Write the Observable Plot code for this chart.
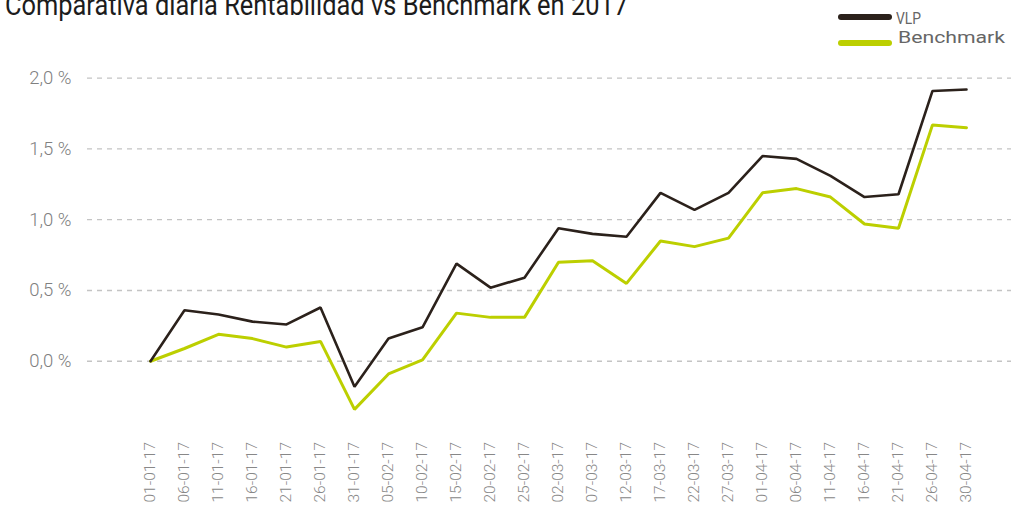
<!DOCTYPE html>
<html>
<head>
<meta charset="utf-8">
<script src="https://cdn.jsdelivr.net/npm/d3@7"></script>
<script src="https://cdn.jsdelivr.net/npm/@observablehq/plot@0.6"></script>
<style>
  html, body { margin: 0; padding: 0; background: #fff; overflow: hidden; }
  #wrap { position: relative; width: 1011px; height: 509px; }
  #title { position: absolute; left: 5px; top: -9px; font-family: Roboto, "Open Sans", sans-serif; font-size: 29px; line-height: 29px; color: #1c1c1c; white-space: nowrap; transform-origin: 0 0; }
  .leg { position: absolute; font-family: Roboto, sans-serif; font-size: 16px; line-height: 16px; color: #666; white-space: nowrap; transform-origin: 0 0; display: inline-block; }
  .sw { position: absolute; height: 6.5px; border-radius: 3px; }
</style>
</head>
<body>
<div id="wrap">
  <div id="chart"></div>
  <div id="title">Comparativa diaria Rentabilidad vs Benchmark en 2017</div>
  <div class="sw" style="left:838px;top:13.5px;width:54px;background:#2b211b"></div>
  <div class="leg" id="leg1" style="left:896px;top:10.7px">VLP</div>
  <div class="sw" style="left:838px;top:39.5px;width:54px;background:#bccf00"></div>
  <div class="leg" id="leg2" style="left:898px;top:29.7px">Benchmark</div>
</div>
<script>
const dates = ["01-01-17","06-01-17","11-01-17","16-01-17","21-01-17","26-01-17","31-01-17","05-02-17","10-02-17","15-02-17","20-02-17","25-02-17","02-03-17","07-03-17","12-03-17","17-03-17","22-03-17","27-03-17","01-04-17","06-04-17","11-04-17","16-04-17","21-04-17","26-04-17","30-04-17"];
const vlp = [0.00,0.36,0.33,0.28,0.26,0.38,-0.18,0.16,0.24,0.69,0.52,0.59,0.94,0.90,0.88,1.19,1.07,1.19,1.45,1.43,1.31,1.16,1.18,1.91,1.92];
const benchmark = [0.00,0.09,0.19,0.16,0.10,0.14,-0.34,-0.09,0.01,0.34,0.31,0.31,0.70,0.71,0.55,0.85,0.81,0.87,1.19,1.22,1.16,0.97,0.94,1.67,1.65];
const yTicks = [0, 0.5, 1.0, 1.5, 2.0];
const seriesNames = ["VLP", "Benchmark"];
const seriesColors = ["#2b211b", "#bccf00"];

const vlpData = dates.map((d, i) => ({date: d, value: vlp[i], series: seriesNames[0]}));
const benchData = dates.map((d, i) => ({date: d, value: benchmark[i], series: seriesNames[1]}));

const fmt = d => d.toFixed(1).replace(".", ",") + " %";

const chart = Plot.plot({
  width: 1011,
  height: 509,
  marginLeft: 87,
  marginRight: 0,
  marginTop: 77.7,
  marginBottom: 77.5,
  style: {fontFamily: "Roboto, sans-serif", background: "#fff"},
  x: {type: "point", domain: dates, range: [148, 968], padding: 0, label: null},
  y: {domain: [-0.5, 2.0], label: null},
  marks: [
    Plot.ruleY(yTicks, {stroke: "#c4c4c4", strokeWidth: 1.3, strokeDasharray: "5,5"}),
    Plot.axisY(yTicks, {tickSize: 0, tickPadding: 16, tickFormat: fmt, fontSize: 18.5, fill: "#808080", fontWeight: 300, label: null}),
    Plot.axisX({tickRotate: -90, tickSize: 0, tickPadding: 10, fontSize: 15.5, fill: "#888", fontWeight: 300, label: null}),
    Plot.line(benchData, {x: "date", y: "value", stroke: seriesColors[1], strokeWidth: 3, strokeLinejoin: "miter"}),
    Plot.line(vlpData, {x: "date", y: "value", stroke: seriesColors[0], strokeWidth: 2.6, strokeLinejoin: "miter"})
  ]
});
document.getElementById("chart").appendChild(chart);

function fit(id, target) {
  const el = document.getElementById(id);
  el.style.display = "inline-block";
  const w = el.getBoundingClientRect().width;
  el.style.transform = `scaleX(${target / w})`;
}
fit("title", 623);
fit("leg1", 25);
fit("leg2", 107);
</script>
</body>
</html>
